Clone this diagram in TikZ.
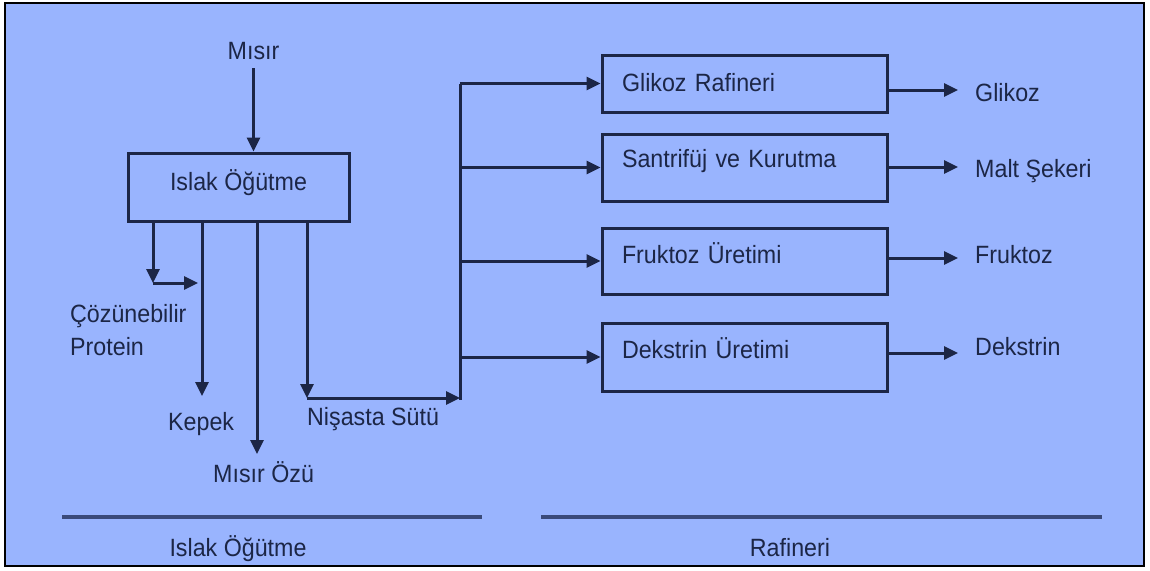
\documentclass[tikz,border=0pt]{standalone}
\usepackage{fontspec}
\setmainfont{Liberation Sans}[FakeStretch=0.93]
\usetikzlibrary{arrows.meta}
\definecolor{bg}{RGB}{153,180,254}
\definecolor{ink}{RGB}{28,38,70}
\definecolor{sep}{RGB}{58,74,122}
\begin{document}
\begin{tikzpicture}[x=1pt,y=-1pt,
  every node/.style={font=\fontsize{25}{33}\selectfont, text=ink},
  line/.style={draw=ink, line width=3pt},
  arr/.style={line, -{Triangle[length=14pt,width=13pt]}},
  box/.style={draw=ink, line width=3pt, rectangle, inner sep=0pt},
  rbox/.style={box, minimum width=285pt, text width=245pt, align=left},
  lbl/.style={inner sep=0pt, anchor=base west},
  sepline/.style={draw=sep, line width=3.4pt},
]
\useasboundingbox (0,0) rectangle (1150,570);
\draw[black, line width=1.6pt, fill=bg] (5,3) rectangle (1144,566);

% left part
\node[inner sep=0pt, anchor=base] (misir) at (253.5,59) {Mısır};
\node[box, minimum width=221pt, minimum height=68pt, text height=15pt, text depth=9pt] (islak) at (238.5,187) {Islak Öğütme};
\draw[arr] ([yshift=-9pt]misir.base) -- (misir.base |- islak.north);

\coordinate (p1) at (153,283);
\coordinate (p1e) at (198,283);
\coordinate (k) at (202,396);
\coordinate (oz) at (257,454);
\coordinate (ns) at (307,398);
\coordinate (bus) at (460,398);

\draw[arr] (islak.south -| p1) -- (p1);
\draw[arr] (p1) -- (p1e);
\draw[arr] (islak.south -| k) -- (k);
\draw[arr] (islak.south -| oz) -- (oz);
\draw[arr] (islak.south -| ns) -- (ns);
\draw[arr] (ns) -- (bus);

\node[lbl, align=left] (cozun) at (70,355) {Çözünebilir\\Protein};
\node[lbl] (kepek) at (168,430) {Kepek};
\node[lbl] (ozu) at (213,482) {Mısır Özü};
\node[lbl] (nisasta) at (307,425) {Nişasta Sütü};

% right part
\node[rbox, minimum height=57pt, text height=20pt, text depth=5pt] (g1) at (744.5,83.5) {Glikoz Rafineri};
\node[rbox, minimum height=67pt, text height=12pt, text depth=12pt] (g2) at (744.5,167.5) {Santrifüj ve Kurutma};
\node[rbox, minimum height=66pt, text height=14pt, text depth=10pt] (g3) at (744.5,261) {Fruktoz Üretimi};
\node[rbox, minimum height=68pt, text height=13pt, text depth=11pt] (g4) at (744.5,357) {Dekstrin Üretimi};

\draw[line] ([yshift=-1.5pt]bus) -- (bus |- g1.west);
\foreach \b in {g1,g2,g3,g4} {
  \draw[arr] (bus |- \b.west) -- (\b.west);
}

\node[lbl] (glikoz) at (975,101) {Glikoz};
\node[lbl] (malt) at (975,177) {Malt Şekeri};
\node[lbl] (fruktoz) at (975,263) {Fruktoz};
\node[lbl] (dekstrin) at (975,355) {Dekstrin};

\coordinate (o1) at (958,90);
\coordinate (o2) at (958,167);
\coordinate (o3) at (958,258);
\coordinate (o4) at (958,353);
\draw[arr] (g1.east |- o1) -- (o1);
\draw[arr] (g2.east |- o2) -- (o2);
\draw[arr] (g3.east |- o3) -- (o3);
\draw[arr] (g4.east |- o4) -- (o4);

% bottom
\draw[sepline] (62,517) -- (482,517);
\draw[sepline] (541,517) -- (1102,517);
\node[inner sep=0pt, anchor=base] (lblislak) at (238,556) {Islak Öğütme};
\node[inner sep=0pt, anchor=base] (lblraf) at (790,556) {Rafineri};
\end{tikzpicture}
\end{document}
